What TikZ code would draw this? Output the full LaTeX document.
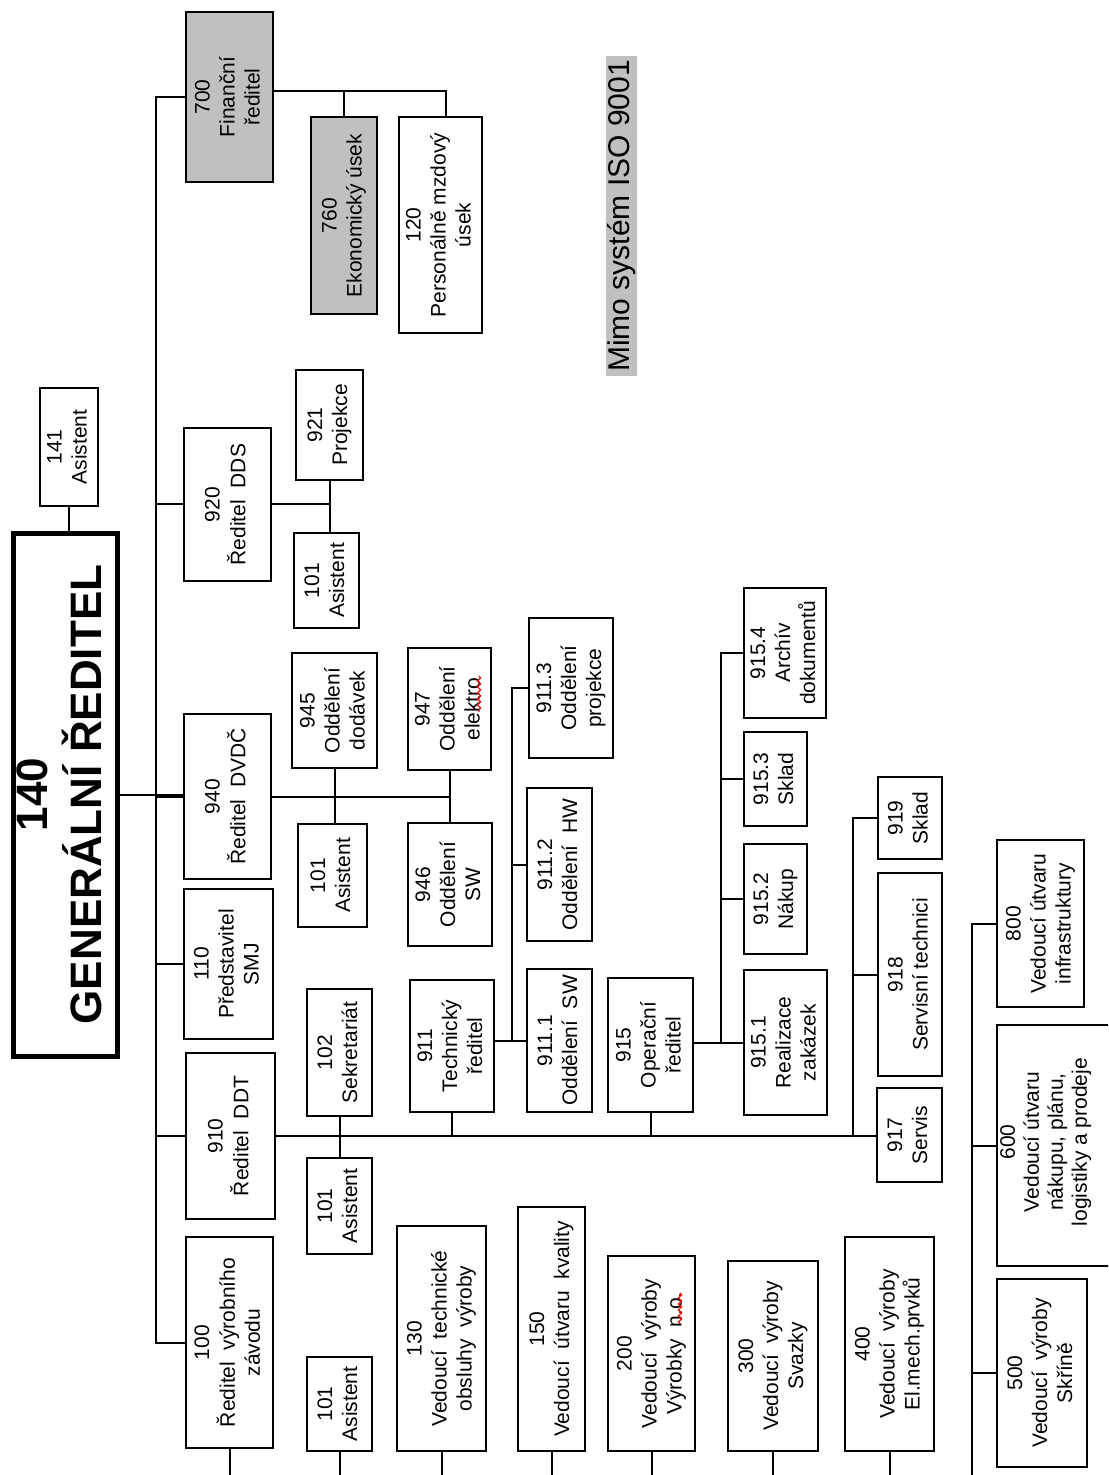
\documentclass[tikz,border=0pt]{standalone}
\usepackage{fontspec}
\setmainfont{Liberation Sans}
\usetikzlibrary{decorations.pathmorphing}
\definecolor{boxgray}{HTML}{C0C0C0}
\tikzset{
  obox/.style={draw, line width=1pt, inner sep=0pt, fill=white, font=\fontsize{10.5}{12.5}\selectfont},
  grayfill/.style={fill=boxgray},
  conn/.style={line width=1pt},
  genbox/.style={draw, line width=2.5pt, inner sep=0pt, fill=white, font=\fontsize{22}{24}\selectfont\bfseries},
  wavy/.style={red, line width=0.6pt, decorate, decoration={snake, amplitude=0.8pt, segment length=3pt}},
  txt/.style={inner sep=0pt, font=\fontsize{10.5}{12}\selectfont},
}
\newcommand\bx[7][]{\node[obox,#1,minimum width={(#5-#3)*0.5pt},minimum height={(#6-#4)*0.5pt}] (#2) at ({(#3+#5)/2},{(#4+#6)/2}) {\rotatebox{90}{\begin{tabular}{@{}c@{}}#7\end{tabular}}};}
\begin{document}
\begin{tikzpicture}[x=0.5pt,y=-0.5pt]
\useasboundingbox (0,0) rectangle (1108,1475);
\fill[white] (0,0) rectangle (1108,1475);
\clip (0,0) rectangle (1108,1475);

% ---------- top (finance) ----------
\bx[grayfill]{fin}{186}{12}{273}{182}{700\\Finanční\\ředitel}
\bx[grayfill]{e760}{311}{117}{377}{314}{760\\Ekonomický úsek}
\bx{p120}{399}{117}{482}{333}{120\\Personálně mzdový\\úsek}
\node[fill=boxgray, inner sep=0pt, minimum width=15.5pt, minimum height=160pt, font=\fontsize{15}{17}\selectfont] (mimo) at (621.5,216) {\rotatebox{90}{Mimo systém ISO 9001}};

% ---------- general director ----------
\bx{a141}{40}{388}{98}{506}{141\\Asistent}
\node[genbox, minimum width={(117-13)*0.5pt}, minimum height={(1056-533)*0.5pt}] (gr) at (65,794.5) {\rotatebox{90}{\begin{tabular}{@{}c@{}}140\\GENERÁLNÍ ŘEDITEL\end{tabular}}};

% ---------- DDS ----------
\bx{dds}{184}{428}{271}{581}{920\\Ředitel~~DDS}
\bx{p921}{296}{370}{363}{480}{921\\Projekce}
\bx{a101a}{294}{533}{359}{628}{101\\Asistent}

% ---------- DVDC ----------
\bx{dvdc}{184}{714}{271}{879}{940\\Ředitel~~DVDČ}
\bx{o945}{292}{653}{377}{768}{945\\Oddělení\\dodávek}
\bx{a101b}{298}{824}{367}{927}{101\\Asistent}
\bx{o947}{408}{648}{491}{770}{947\\Oddělení\\elektro}
\bx{o946}{408}{823}{492}{946}{946\\Oddělení\\SW}

% ---------- SMJ ----------
\bx{smj}{184}{889}{273}{1039}{110\\Představitel\\SMJ}

% ---------- DDT ----------
\bx{ddt}{186}{1053}{275}{1219}{910\\Ředitel~~DDT}
\bx{s102}{307}{989}{372}{1116}{102\\Sekretariát}
\bx{a101c}{307}{1158}{372}{1254}{101\\Asistent}
\bx{t911}{410}{980}{494}{1112}{911\\Technický\\ředitel}
\bx{d9111}{527}{969}{592}{1112}{911.1\\Oddělení~~SW}
\bx{d9112}{527}{788}{592}{941}{911.2\\Oddělení~~HW}
\bx{d9113}{529}{618}{613}{758}{911.3\\Oddělení\\projekce}
\bx{o915}{608}{978}{693}{1112}{915\\Operační\\ředitel}
\bx{d9151}{744}{970}{827}{1115}{915.1\\Realizace\\zakázek}
\bx{d9152}{744}{844}{807}{954}{915.2\\Nákup}
\bx{d9153}{744}{732}{807}{826}{915.3\\Sklad}
\bx{d9154}{744}{588}{826}{718}{915.4\\Archív\\dokumentů}
\bx{s917}{877}{1088}{942}{1182}{917\\Servis}
\bx{s918}{878}{873}{942}{1076}{918\\Servisní technici}
\bx{s919}{878}{777}{942}{859}{919\\Sklad}

% ---------- production ----------
\bx{v100}{186}{1237}{273}{1448}{100\\Ředitel~~výrobního\\závodu}
\bx{a101d}{307}{1357}{372}{1451}{101\\Asistent}
\bx{v130}{397}{1226}{486}{1451}{130\\Vedoucí~~technické\\obsluhy~~výroby}
\bx{v150}{518}{1207}{585}{1451}{150\\Vedoucí~~útvaru~~kvality}
\bx{v200}{608}{1256}{695}{1451}{200\\Vedoucí~~výroby\\Výrobky~~n.o.}
\bx{v300}{728}{1261}{818}{1451}{300\\Vedoucí~~výroby\\Svazky}
\bx{v400}{845}{1237}{934}{1451}{400\\Vedoucí~~výroby\\El.mech.prvků}
\bx{v800}{997}{840}{1084}{1007}{800\\Vedoucí útvaru\\infrastruktury}
\bx{v600}{997}{1025}{1115}{1266}{}
\node[txt] (t600) at (1046,1142) {\rotatebox{90}{\begin{tabular}{@{}c@{}}600\\Vedoucí útvaru\\nákupu, plánu,\\logistiky a prodeje\end{tabular}}};
\bx{v500}{997}{1279}{1087}{1467}{500\\Vedoucí~~výroby\\Skříně}

% ---------- helper coordinates ----------
\coordinate (trunk) at (156,0);
\coordinate (tbus) at (512,0);
\coordinate (obus) at (721,0);
\coordinate (sbus) at (853,0);
\coordinate (pbus) at (972,0);
\coordinate (bot) at (0,1475);
\coordinate (finbus) at ([yshift=3pt]fin.east);
\coordinate (p120c) at ([xshift=2.5pt]p120.north);

% ---------- connectors ----------
\draw[conn] (fin.west) -| (trunk |- v100.west) -- (v100.west);
\foreach \n in {dds,dvdc,smj,ddt} \draw[conn] (\n.west) -- (\n.west -| trunk);
\draw[conn] (gr.east) -- (gr.east -| dvdc.west);
\draw[conn] (a141.south) -- (a141.south |- gr.north);

\draw[conn] (finbus) -| (p120c);
\draw[conn] (e760.north) -- (e760.north |- finbus);

\draw[conn] (dds.east) -- (dds.east -| p921.south);
\draw[conn] (p921.south) -- (p921.south |- a101a.north);

\draw[conn] (dvdc.east) -- (dvdc.east -| o947.south);
\draw[conn] (o945.south) -- (o945.south |- a101b.north);
\draw[conn] (o947.south) -- (o947.south |- o946.north);

\draw[conn] (ddt.east) -- (ddt.east -| s917.west);
\draw[conn] (s102.south) -- (s102.south |- a101c.north);
\draw[conn] (t911.south) -- (t911.south |- ddt.east);
\draw[conn] (o915.south) -- (o915.south |- ddt.east);

\draw[conn] (t911.east |- d9111.west) -- (d9111.west);
\draw[conn] (d9113.west) -| (tbus |- d9111.west);
\draw[conn] (d9112.west) -- (d9112.west -| tbus);

\draw[conn] (o915.east |- d9151.west) -- (d9151.west);
\draw[conn] (d9154.west) -| (obus |- d9151.west);
\draw[conn] (d9152.west) -- (d9152.west -| obus);
\draw[conn] (d9153.west) -- (d9153.west -| obus);

\draw[conn] (s919.west) -| (sbus |- s917.west);
\draw[conn] (s918.west) -- (s918.west -| sbus);

\foreach \n in {v100,a101d,v130,v150,v200,v300,v400} \draw[conn] (\n.south) -- (\n.south |- bot);

\draw[conn] (v800.west) -| (pbus |- bot);
\draw[conn] (v600.west) -- (v600.west -| pbus);
\draw[conn] (v500.west) -- (v500.west -| pbus);

% ---------- spell-check marks ----------
\draw[wavy] (479,676) -- (479,712);
\draw[wavy] (680,1293) -- (680,1324);
\end{tikzpicture}
\end{document}
